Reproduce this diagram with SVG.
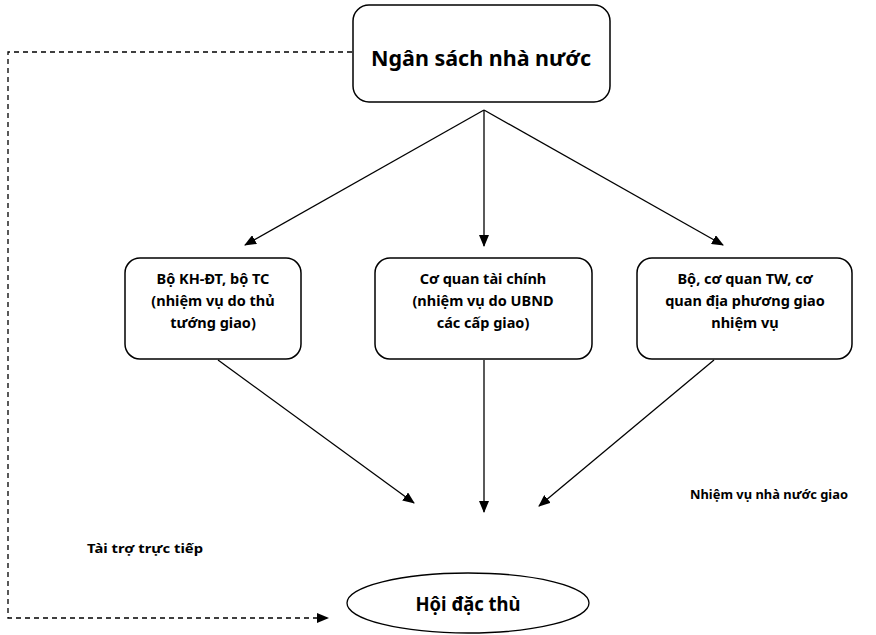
<svg xmlns="http://www.w3.org/2000/svg" width="876" height="635" viewBox="0 0 876 635">
<defs>
<marker id="ah" markerWidth="12" markerHeight="10" refX="11" refY="5" orient="auto" markerUnits="userSpaceOnUse">
<path d="M0,0 L12,5 L0,10 Z" fill="#000"/>
</marker>
<style>
.box{fill:#fff;stroke:#000;stroke-width:1.5}
.t{font-family:"Noto Sans","Open Sans","DejaVu Sans",sans-serif;font-weight:bold;fill:#000;text-anchor:middle}
.bt{font-size:14.5px}
.lbl{font-family:"Noto Sans","Open Sans","DejaVu Sans",sans-serif;font-weight:bold;font-size:12.5px;fill:#000}
.c{stroke:#000;stroke-width:1.3;fill:none}
.d{stroke:#000;stroke-width:1.3;fill:none;stroke-dasharray:5,4}
</style>
</defs>
<g id="connectors">
<line class="c" x1="484" y1="110" x2="245" y2="245" marker-end="url(#ah)"/>
<line class="c" x1="484" y1="110" x2="484" y2="246" marker-end="url(#ah)"/>
<line class="c" x1="484" y1="110" x2="723" y2="245" marker-end="url(#ah)"/>
<line class="c" x1="218" y1="360" x2="414" y2="503" marker-end="url(#ah)"/>
<line class="c" x1="484" y1="360" x2="484" y2="512" marker-end="url(#ah)"/>
<line class="c" x1="714" y1="360" x2="539" y2="506" marker-end="url(#ah)"/>
<polyline class="d" points="352,52 8,52 8,618 328,618" marker-end="url(#ah)"/>
</g>
<g id="ngan-sach">
<rect class="box" x="353" y="5" width="257" height="97" rx="16"/>
<text class="t" x="481" y="66" font-size="21" textLength="220" lengthAdjust="spacingAndGlyphs">Ngân sách nhà nước</text>
</g>
<g id="bo-khdt">
<rect class="box" x="125" y="258" width="176" height="101" rx="15"/>
<text class="t bt" x="213" y="284">Bộ KH-ĐT, bộ TC</text>
<text class="t bt" x="213" y="306">(nhiệm vụ do thủ</text>
<text class="t bt" x="213" y="328">tướng giao)</text>
</g>
<g id="co-quan-tc">
<rect class="box" x="375" y="258" width="217" height="101" rx="15"/>
<text class="t bt" x="483" y="284">Cơ quan tài chính</text>
<text class="t bt" x="483" y="306">(nhiệm vụ do UBND</text>
<text class="t bt" x="483" y="328">các cấp giao)</text>
</g>
<g id="bo-co-quan">
<rect class="box" x="637" y="258" width="215" height="101" rx="15"/>
<text class="t bt" x="745" y="284">Bộ, cơ quan TW, cơ</text>
<text class="t bt" x="745" y="306">quan địa phương giao</text>
<text class="t bt" x="745" y="328">nhiệm vụ</text>
</g>
<g id="hoi-dac-thu">
<ellipse cx="468" cy="603" rx="121" ry="30" fill="#fff" stroke="#000" stroke-width="1.3"/>
<text class="t" x="468" y="611" font-size="20" textLength="105" lengthAdjust="spacingAndGlyphs">Hội đặc thù</text>
</g>
<g id="labels">
<text class="lbl" x="87" y="553" textLength="116" lengthAdjust="spacingAndGlyphs">Tài trợ trực tiếp</text>
<text class="lbl" x="690" y="499" textLength="158" lengthAdjust="spacingAndGlyphs">Nhiệm vụ nhà nước giao</text>
</g>
</svg>
